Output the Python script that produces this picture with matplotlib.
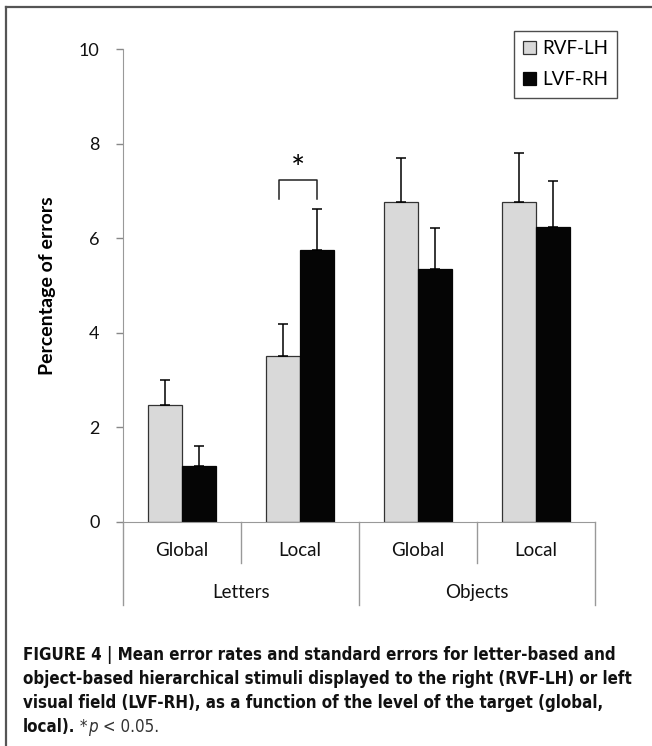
import numpy as np
import matplotlib
matplotlib.use("Agg")
import matplotlib.pyplot as plt
from matplotlib.lines import Line2D

plt.rcParams['font.family'] = ['Lato', 'DejaVu Sans']

# data
niveles = ["Global", "Local", "Global", "Local"]
grupos = ["Letters", "Objects"]
series = ["RVF-LH", "LVF-RH"]
rvf_lh = [2.48, 3.52, 6.76, 6.76]
rvf_lh_err = [0.53, 0.67, 0.94, 1.04]
lvf_rh = [1.18, 5.74, 5.34, 6.24]
lvf_rh_err = [0.42, 0.87, 0.87, 0.96]
yticks = [0, 2, 4, 6, 8, 10]

caption_lines = [
    "FIGURE 4 | Mean error rates and standard errors for letter-based and",
    "object-based hierarchical stimuli displayed to the right (RVF-LH) or left",
    "visual field (LVF-RH), as a function of the level of the target (global,",
]
caption_last = "local)."

fig = plt.figure(figsize=(6.52, 7.46), dpi=100)
ax = fig.add_axes([123/652, 1-522/746, 472/652, 473/746])

x = np.arange(len(niveles))
w = 0.29
err_kw = dict(ecolor="black", elinewidth=1.1, capsize=3.5, capthick=1.1)
ax.bar(x - w/2, rvf_lh, w, color="#d9d9d9", edgecolor="#333333", linewidth=0.9,
       yerr=[np.zeros(4), rvf_lh_err], error_kw=err_kw, label=series[0], zorder=2)
ax.bar(x + w/2, lvf_rh, w, color="#050505", edgecolor="#050505", linewidth=0.9,
       yerr=[np.zeros(4), lvf_rh_err], error_kw=err_kw, label=series[1], zorder=2)

ax.set_xlim(-0.5, 3.5)
ax.set_ylim(0, 10)
ax.set_yticks(yticks)
ax.tick_params(axis="y", colors="#888888", labelcolor="#111111", labelsize=13,
               length=5, width=1, pad=12)
ax.set_xticks([])
for s in ["top", "right"]:
    ax.spines[s].set_visible(False)
ax.spines["left"].set_color("#999999")
ax.spines["bottom"].set_color("#999999")
ax.set_ylabel("Percentage of errors", fontsize=14, fontweight="bold", labelpad=16)

# significance bracket
bx0, bx1 = 1 - w/2 - 0.035, 1 + w/2
ax.plot([bx0, bx0, bx1, bx1], [6.82, 7.22, 7.22, 6.82], color="#222222", lw=1.1)
ax.text((bx0 + bx1)/2, 7.45, "*", ha="center", va="center", fontsize=24)

# category table below the axis
tr = ax.get_xaxis_transform()
for xs in [-0.5, 1.5, 3.5]:
    ax.add_line(Line2D([xs, xs], [0, -0.175], transform=tr, color="#999999", lw=1, clip_on=False))
for xs in [0.5, 2.5]:
    ax.add_line(Line2D([xs, xs], [0, -0.087], transform=tr, color="#999999", lw=1, clip_on=False))
for i, nv in enumerate(niveles):
    ax.text(x[i], -0.06, nv, transform=tr, ha="center", va="center", fontsize=13.5, color="#111111")
for j, g in enumerate(grupos):
    ax.text(0.5 + 2*j, -0.148, g, transform=tr, ha="center", va="center", fontsize=13.5, color="#111111")

leg = ax.legend(loc="upper right", bbox_to_anchor=(1.047, 1.038), borderaxespad=0,
                fontsize=13.5, frameon=True, fancybox=False, handlelength=0.7,
                handleheight=0.7, handletextpad=0.3, labelspacing=0.75, borderpad=0.5)
leg.get_frame().set_edgecolor("#222222")
leg.get_frame().set_linewidth(1.0)

# outer frame (top and left only)
fig.add_artist(Line2D([6/652, 1], [1-7/746, 1-7/746], transform=fig.transFigure, color="#555555", lw=1.6))
fig.add_artist(Line2D([6/652, 6/652], [0, 1-7/746], transform=fig.transFigure, color="#555555", lw=1.6))

# caption
cap_font = dict(family="DejaVu Sans", stretch="condensed", fontsize=12.2)
ys = [655, 679, 703]
for txt, yy in zip(caption_lines, ys):
    fig.text(23/652, 1-yy/746, txt, fontweight="bold", va="center", ha="left",
             color="#111111", **cap_font)
t = fig.text(23/652, 1-727/746, caption_last, fontweight="bold", va="center",
             ha="left", color="#111111", **cap_font)
a1 = ax.annotate(" *", xy=(1, 0.5), xycoords=t, va="center", ha="left",
                 color="#333333", **cap_font)
a2 = ax.annotate("p", xy=(1, 0.5), xycoords=a1, va="center", ha="left",
                 style="italic", color="#333333", **cap_font)
ax.annotate(" < 0.05.", xy=(1, 0.5), xycoords=a2, va="center", ha="left",
            color="#333333", **cap_font)

fig.savefig("out.png", dpi=100)
